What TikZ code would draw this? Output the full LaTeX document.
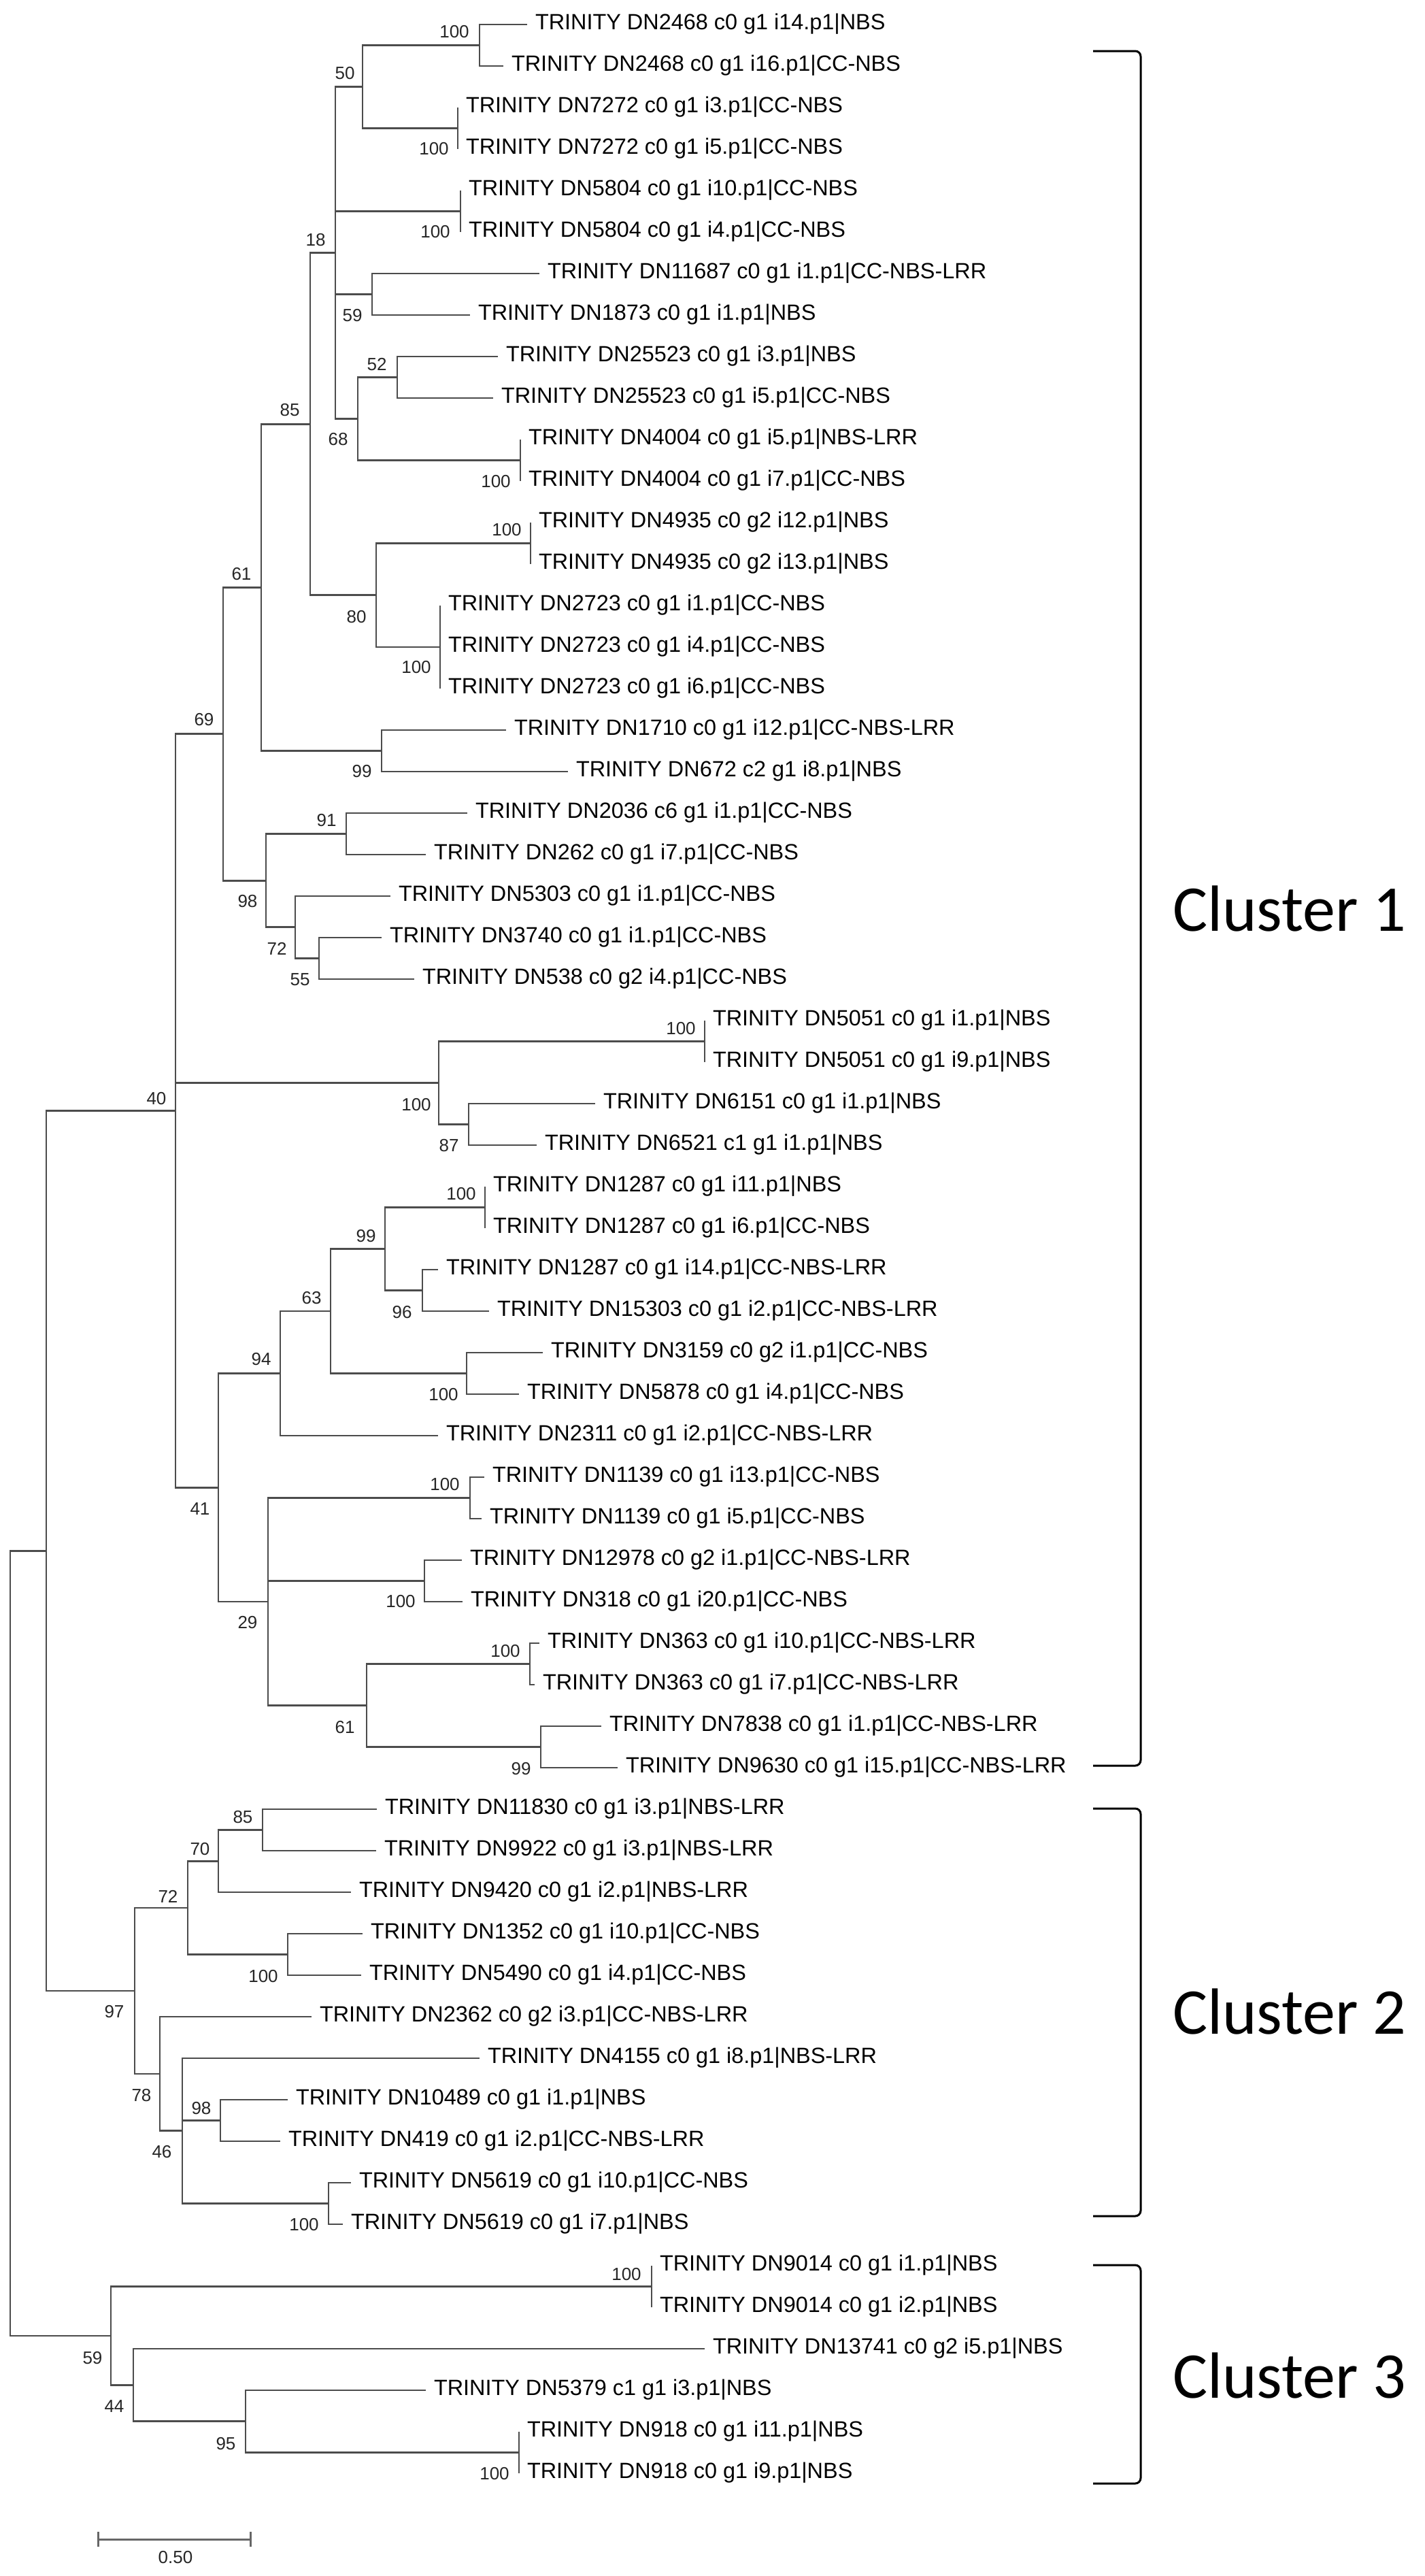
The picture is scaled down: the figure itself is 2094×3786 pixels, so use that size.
\documentclass[tikz,border=0pt]{standalone}
\usepackage{fontspec}
\setmainfont{Liberation Sans}
\newfontfamily\clusterfont{Carlito}

\tikzset{
	branch/.style={draw=black!70, line width=1.4pt},
	leaf/.style={anchor=west, inner xsep=6pt, inner ysep=0pt, outer sep=0pt,
		text height=0.72em, text depth=0pt, font=\fontsize{16.2}{18}\selectfont},
	boot/.style={inner sep=0pt, text=black!85, font=\fontsize{13}{15}\selectfont},
	bracket/.style={draw=black, line width=1.5pt, rounded corners=4pt},
	cluster/.style={anchor=base west, inner sep=0pt, font=\clusterfont\fontsize{48}{56}\selectfont},
	scalebar/.style={draw=black!60, line width=1.5pt}
}

\begin{document}
\begin{tikzpicture}[x=0.5pt, y=-0.5pt]
	\useasboundingbox (0,0) rectangle (2094,3786);

	% internal nodes of the tree
	\coordinate (n2468) at (705,66.5);
	\coordinate (n7272) at (673,188.5);
	\coordinate (n50) at (533,127.5);
	\coordinate (n5804) at (677,310.5);
	\coordinate (n11687) at (547,432.5);
	\coordinate (n25523) at (584,554.5);
	\coordinate (n4004) at (765,676.5);
	\coordinate (n68) at (526,615.5);
	\coordinate (n18) at (493,371.5);
	\coordinate (n4935) at (780,798.5);
	\coordinate (n2723) at (647,951);
	\coordinate (n80) at (553,874.75);
	\coordinate (n85) at (456,623.1);
	\coordinate (n1710) at (561,1103.5);
	\coordinate (n61) at (384,863.3);
	\coordinate (n2036) at (509,1225.5);
	\coordinate (n3740) at (469,1408.5);
	\coordinate (n72) at (434,1362.75);
	\coordinate (n98) at (391,1294.1);
	\coordinate (n69) at (328,1078.7);
	\coordinate (n5051) at (1036,1530.5);
	\coordinate (n6151) at (689,1652.5);
	\coordinate (n5051g) at (645,1591.5);
	\coordinate (n1287) at (713,1774.5);
	\coordinate (n15303) at (621,1896.5);
	\coordinate (n99) at (566,1835.5);
	\coordinate (n3159) at (686,2018.5);
	\coordinate (n63) at (486,1927);
	\coordinate (n94) at (412,2018.5);
	\coordinate (n1139) at (691,2201.5);
	\coordinate (n12978) at (624,2323.5);
	\coordinate (n363) at (779,2445.5);
	\coordinate (n7838) at (795,2567.5);
	\coordinate (n61b) at (539,2506.5);
	\coordinate (n29) at (394,2354);
	\coordinate (n41) at (321,2186.25);
	\coordinate (n40) at (258,1632.5);
	\coordinate (n11830) at (386,2689.5);
	\coordinate (n70) at (321,2735.25);
	\coordinate (n1352) at (423,2872.5);
	\coordinate (n72b) at (276,2803.9);
	\coordinate (n10489) at (324,3116.5);
	\coordinate (n5619) at (483,3238.5);
	\coordinate (n46) at (268,3131.75);
	\coordinate (n78) at (235,3047.9);
	\coordinate (n97) at (198,2925.9);
	\coordinate (nclade) at (68,2279.2);
	\coordinate (n9014) at (958,3360.5);
	\coordinate (n918) at (763,3604.5);
	\coordinate (n95) at (361,3558.75);
	\coordinate (n44) at (196,3505.4);
	\coordinate (n59) at (163,3432.9);
	\coordinate (nroot) at (15,2856);

	\foreach \a/\b in {n50/n2468,n50/n7272,n18/n50,n18/n5804,n18/n11687,n18/n68,
		n68/n25523,n68/n4004,n85/n18,n85/n80,n80/n4935,n80/n2723,n61/n85,n61/n1710,
		n72/n3740,n98/n2036,n98/n72,n69/n61,n69/n98,n5051g/n5051,n5051g/n6151,
		n99/n1287,n99/n15303,n63/n99,n63/n3159,n94/n63,n61b/n363,n61b/n7838,
		n29/n1139,n29/n12978,n29/n61b,n41/n94,n41/n29,n40/n69,n40/n5051g,n40/n41,
		n70/n11830,n72b/n70,n72b/n1352,n46/n10489,n46/n5619,n78/n46,n97/n72b,n97/n78,
		nclade/n40,nclade/n97,n95/n918,n44/n95,n59/n9014,n59/n44,nroot/nclade,nroot/n59}
	{
		\draw[branch] (\a) |- (\b);
	}

	% leaves
	\foreach \k/\xe/\pa/\lab in {
		1/775/n2468/TRINITY DN2468 c0 g1 i14.p1|NBS,
		2/740/n2468/TRINITY DN2468 c0 g1 i16.p1|CC-NBS,
		3/673/n7272/TRINITY DN7272 c0 g1 i3.p1|CC-NBS,
		4/673/n7272/TRINITY DN7272 c0 g1 i5.p1|CC-NBS,
		5/677/n5804/TRINITY DN5804 c0 g1 i10.p1|CC-NBS,
		6/677/n5804/TRINITY DN5804 c0 g1 i4.p1|CC-NBS,
		7/793/n11687/TRINITY DN11687 c0 g1 i1.p1|CC-NBS-LRR,
		8/691/n11687/TRINITY DN1873 c0 g1 i1.p1|NBS,
		9/732/n25523/TRINITY DN25523 c0 g1 i3.p1|NBS,
		10/725/n25523/TRINITY DN25523 c0 g1 i5.p1|CC-NBS,
		11/765/n4004/TRINITY DN4004 c0 g1 i5.p1|NBS-LRR,
		12/765/n4004/TRINITY DN4004 c0 g1 i7.p1|CC-NBS,
		13/780/n4935/TRINITY DN4935 c0 g2 i12.p1|NBS,
		14/780/n4935/TRINITY DN4935 c0 g2 i13.p1|NBS,
		15/647/n2723/TRINITY DN2723 c0 g1 i1.p1|CC-NBS,
		16/647/n2723/TRINITY DN2723 c0 g1 i4.p1|CC-NBS,
		17/647/n2723/TRINITY DN2723 c0 g1 i6.p1|CC-NBS,
		18/744/n1710/TRINITY DN1710 c0 g1 i12.p1|CC-NBS-LRR,
		19/835/n1710/TRINITY DN672 c2 g1 i8.p1|NBS,
		20/687/n2036/TRINITY DN2036 c6 g1 i1.p1|CC-NBS,
		21/626/n2036/TRINITY DN262 c0 g1 i7.p1|CC-NBS,
		22/574/n72/TRINITY DN5303 c0 g1 i1.p1|CC-NBS,
		23/561/n3740/TRINITY DN3740 c0 g1 i1.p1|CC-NBS,
		24/609/n3740/TRINITY DN538 c0 g2 i4.p1|CC-NBS,
		25/1036/n5051/TRINITY DN5051 c0 g1 i1.p1|NBS,
		26/1036/n5051/TRINITY DN5051 c0 g1 i9.p1|NBS,
		27/875/n6151/TRINITY DN6151 c0 g1 i1.p1|NBS,
		28/789/n6151/TRINITY DN6521 c1 g1 i1.p1|NBS,
		29/713/n1287/TRINITY DN1287 c0 g1 i11.p1|NBS,
		30/713/n1287/TRINITY DN1287 c0 g1 i6.p1|CC-NBS,
		31/644/n15303/TRINITY DN1287 c0 g1 i14.p1|CC-NBS-LRR,
		32/719/n15303/TRINITY DN15303 c0 g1 i2.p1|CC-NBS-LRR,
		33/798/n3159/TRINITY DN3159 c0 g2 i1.p1|CC-NBS,
		34/763/n3159/TRINITY DN5878 c0 g1 i4.p1|CC-NBS,
		35/644/n94/TRINITY DN2311 c0 g1 i2.p1|CC-NBS-LRR,
		36/712/n1139/TRINITY DN1139 c0 g1 i13.p1|CC-NBS,
		37/708/n1139/TRINITY DN1139 c0 g1 i5.p1|CC-NBS,
		38/679/n12978/TRINITY DN12978 c0 g2 i1.p1|CC-NBS-LRR,
		39/680/n12978/TRINITY DN318 c0 g1 i20.p1|CC-NBS,
		40/793/n363/TRINITY DN363 c0 g1 i10.p1|CC-NBS-LRR,
		41/786/n363/TRINITY DN363 c0 g1 i7.p1|CC-NBS-LRR,
		42/884/n7838/TRINITY DN7838 c0 g1 i1.p1|CC-NBS-LRR,
		43/908/n7838/TRINITY DN9630 c0 g1 i15.p1|CC-NBS-LRR,
		44/554/n11830/TRINITY DN11830 c0 g1 i3.p1|NBS-LRR,
		45/553/n11830/TRINITY DN9922 c0 g1 i3.p1|NBS-LRR,
		46/516/n70/TRINITY DN9420 c0 g1 i2.p1|NBS-LRR,
		47/533/n1352/TRINITY DN1352 c0 g1 i10.p1|CC-NBS,
		48/531/n1352/TRINITY DN5490 c0 g1 i4.p1|CC-NBS,
		49/458/n78/TRINITY DN2362 c0 g2 i3.p1|CC-NBS-LRR,
		50/705/n46/TRINITY DN4155 c0 g1 i8.p1|NBS-LRR,
		51/423/n10489/TRINITY DN10489 c0 g1 i1.p1|NBS,
		52/412/n10489/TRINITY DN419 c0 g1 i2.p1|CC-NBS-LRR,
		53/516/n5619/TRINITY DN5619 c0 g1 i10.p1|CC-NBS,
		54/504/n5619/TRINITY DN5619 c0 g1 i7.p1|NBS,
		55/958/n9014/TRINITY DN9014 c0 g1 i1.p1|NBS,
		56/958/n9014/TRINITY DN9014 c0 g1 i2.p1|NBS,
		57/1036/n44/TRINITY DN13741 c0 g2 i5.p1|NBS,
		58/626/n95/TRINITY DN5379 c1 g1 i3.p1|NBS,
		59/763/n918/TRINITY DN918 c0 g1 i11.p1|NBS,
		60/763/n918/TRINITY DN918 c0 g1 i9.p1|NBS}
	{
		\node[leaf] (l\k) at (\xe,{36+61*(\k-1)}) {\lab};
		\draw[branch] (\pa) |- (l\k.west);
	}

	% bootstrap values
	\foreach \bx/\by/\bv [count=\j] in {668/47/100,507/108/50,638/219/100,640/341/100,
		464/353/18,518/464/59,554/536/52,497/646/68,729/708/100,426/603/85,745/779/100,
		524/907/80,612/981/100,355/844/61,532/1134/99,300/1058/69,480/1206/91,364/1325/98,
		407/1394/72,441/1440/55,230/1615/40,612/1624/100,1001/1512/100,660/1684/87,
		678/1755/100,538/1817/99,591/1929/96,458/1908/63,652/2050/100,384/1998/94,
		294/2218/41,654/2182/100,589/2354/100,364/2385/29,743/2427/100,507/2539/61,
		766/2600/99,357/2671/85,294/2718/70,387/2905/100,247/2787/72,168/2957/97,
		208/3080/78,238/3163/46,296/3099/98,447/3270/100,921/3343/100,136/3466/59,
		168/3537/44,332/3592/95,727/3636/100}
	{
		\node[boot] (b\j) at (\bx,\by) {\bv};
	}

	% clusters
	\draw[bracket] (1607,75) -- (1677,75) -- (1677,2595) -- (1607,2595);
	\draw[bracket] (1607,2658) -- (1677,2658) -- (1677,3257) -- (1607,3257);
	\draw[bracket] (1607,3329) -- (1677,3329) -- (1677,3650) -- (1607,3650);
	\node[cluster] (c1) at (1724,1368) {Cluster 1};
	\node[cluster] (c2) at (1724,2989) {Cluster 2};
	\node[cluster] (c3) at (1724,3524) {Cluster 3};

	% scale
	\draw[scalebar] (144,3721) -- (144,3743) (144,3732) -- (368,3732) (368,3721) -- (368,3743);
	\node[boot] (sb) at (258,3759) {0.50};
\end{tikzpicture}
\end{document}
